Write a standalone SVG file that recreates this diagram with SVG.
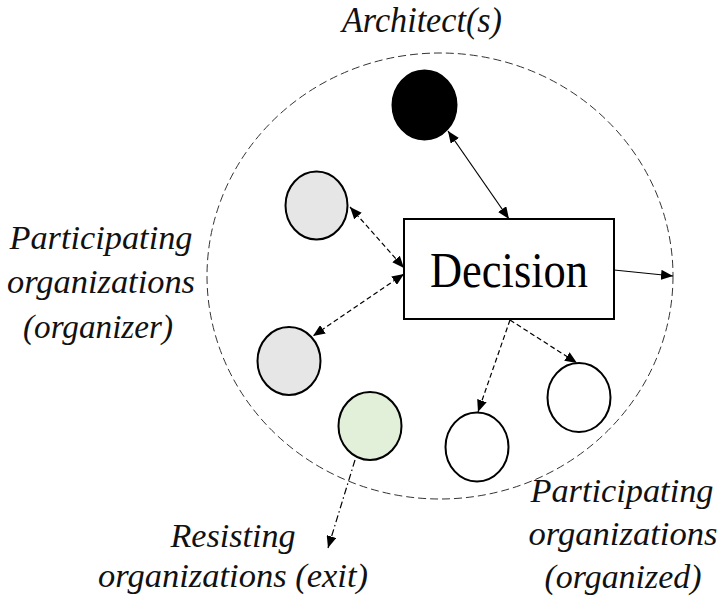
<svg xmlns="http://www.w3.org/2000/svg" width="721" height="601" viewBox="0 0 721 601">
<style>
.lbl{font-family:'Liberation Serif','Times New Roman','DejaVu Serif',serif;font-style:italic;fill:#111;}
.dec{font-family:'Liberation Serif','Times New Roman','DejaVu Serif',serif;fill:#000;}
.node{stroke:#000;stroke-width:2;}
.con{stroke:#000;stroke-width:1.2;fill:none;}
.dash{stroke-dasharray:5 3;}
.dashdot{stroke-dasharray:7 3 1.5 3;}
</style>
<defs>
<marker id="ah" viewBox="0 0 12 10" refX="12" refY="5" markerWidth="12" markerHeight="10" markerUnits="userSpaceOnUse" orient="auto-start-reverse">
<path d="M0,0 L12,5 L0,10 Z" fill="#000"/>
</marker>
</defs>
<rect width="721" height="601" fill="#fff"/>
<g id="boundary">
<ellipse cx="440" cy="276" rx="233" ry="223" fill="none" stroke="#333" stroke-width="1" stroke-dasharray="8 4"/>
</g>
<g id="connectors">
<line class="con" x1="448" y1="131" x2="509" y2="219" marker-start="url(#ah)" marker-end="url(#ah)"/>
<line class="con dash" x1="350" y1="207" x2="404" y2="268" marker-start="url(#ah)" marker-end="url(#ah)"/>
<line class="con dash" x1="404" y1="274" x2="313" y2="336" marker-start="url(#ah)" marker-end="url(#ah)"/>
<line class="con" x1="614" y1="270" x2="673" y2="276" marker-end="url(#ah)"/>
<line class="con dash" x1="510" y1="320" x2="478" y2="412" marker-end="url(#ah)"/>
<line class="con dash" x1="510" y1="320" x2="577" y2="363" marker-end="url(#ah)"/>
<line class="con dashdot" x1="355" y1="460" x2="328" y2="548" marker-end="url(#ah)"/>
</g>
<g id="architect"><ellipse class="node" cx="424.5" cy="105" rx="32" ry="34.5" fill="#000"/></g>
<g id="organizer1"><ellipse class="node" cx="316.5" cy="205.5" rx="31" ry="34" fill="#e6e6e6"/></g>
<g id="organizer2"><ellipse class="node" cx="289" cy="361" rx="31.5" ry="34" fill="#e6e6e6"/></g>
<g id="resisting"><ellipse class="node" cx="370" cy="426" rx="31.5" ry="34" fill="#e2efd9"/></g>
<g id="organized1"><ellipse class="node" cx="477" cy="447" rx="31.5" ry="34.5" fill="#fff"/></g>
<g id="organized2"><ellipse class="node" cx="579" cy="397.5" rx="31.5" ry="34.5" fill="#fff"/></g>
<g id="decision">
<rect class="node" x="404" y="219" width="210" height="100" fill="#fff"/>
<text class="dec" x="509" y="287" text-anchor="middle" font-size="50" textLength="158" lengthAdjust="spacingAndGlyphs">Decision</text>
</g>
<g id="labels">
<text class="lbl" x="422" y="32" text-anchor="middle" font-size="35" textLength="160" lengthAdjust="spacingAndGlyphs">Architect(s)</text>
<text class="lbl" x="101" y="249" text-anchor="middle" font-size="33" textLength="183" lengthAdjust="spacingAndGlyphs">Participating</text>
<text class="lbl" x="101" y="293" text-anchor="middle" font-size="33" textLength="188" lengthAdjust="spacingAndGlyphs">organizations</text>
<text class="lbl" x="98" y="338" text-anchor="middle" font-size="33" textLength="150" lengthAdjust="spacingAndGlyphs">(organizer)</text>
<text class="lbl" x="622" y="502" text-anchor="middle" font-size="33" textLength="183" lengthAdjust="spacingAndGlyphs">Participating</text>
<text class="lbl" x="623" y="545" text-anchor="middle" font-size="33" textLength="189" lengthAdjust="spacingAndGlyphs">organizations</text>
<text class="lbl" x="623" y="588" text-anchor="middle" font-size="33" textLength="157" lengthAdjust="spacingAndGlyphs">(organized)</text>
<text class="lbl" x="233" y="547" text-anchor="middle" font-size="33" textLength="125" lengthAdjust="spacingAndGlyphs">Resisting</text>
<text class="lbl" x="233" y="587" text-anchor="middle" font-size="33" textLength="270" lengthAdjust="spacingAndGlyphs">organizations (exit)</text>
</g>
</svg>
